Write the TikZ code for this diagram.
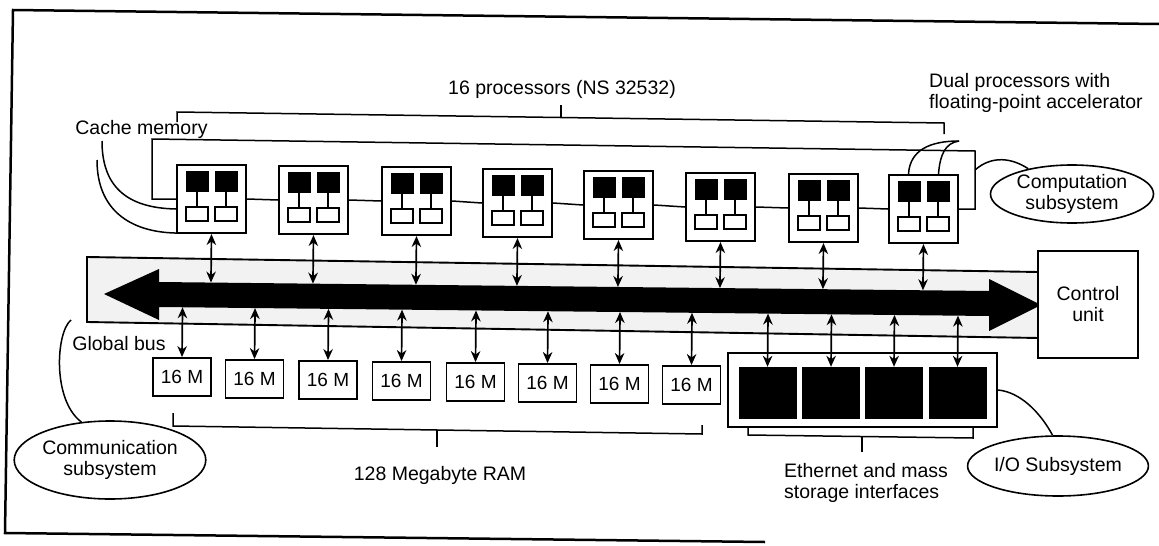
\documentclass[tikz,border=0pt]{standalone}
\usepackage{fontspec}
\setmainfont{Liberation Sans}
\usetikzlibrary{arrows.meta,calc,shapes.geometric}
\definecolor{busgray}{gray}{0.95}
\begin{document}
\begin{tikzpicture}[x=1pt,y=-1pt,
  lbl/.style={font=\fontsize{19.5}{21}\selectfont, inner sep=0pt, align=center},
  pbox/.style={draw, line width=2.1pt, minimum width=69pt, minimum height=68pt, inner sep=0pt, fill=white},
  mbox/.style={draw, line width=1.9pt, minimum width=58pt, minimum height=38pt, inner sep=0pt, fill=white, font=\fontsize{19}{21}\selectfont},
  iosq/.style={fill=black, minimum width=58pt, minimum height=52pt, inner sep=0pt},
  oval/.style={ellipse, draw, line width=1.6pt, inner sep=0pt, align=center, font=\fontsize{19.5}{21}\selectfont},
  dbl/.style={{Stealth[length=11pt,width=9.5pt]}-{Stealth[length=11pt,width=9.5pt]}, line width=1.7pt},
  wire/.style={line width=1.5pt},
]
\useasboundingbox (0,0) rectangle (1159,546);
% frame
\draw[line width=2.5pt] (1159,24) -- (13,10) -- (5,533) -- (765,542);

% bus
\coordinate (busTL) at (87,257);
\coordinate (busBL) at (87,322);
\coordinate (busTR) at (1039,272);
\coordinate (busBR) at (1039,338);
\fill[busgray] (busTL) -- (busTR) -- (busBR) -- (busBL) -- cycle;
\draw[line width=1.9pt] (busTR) -- (busTL) -- (busBL) -- (busBR);
\fill (104,294) -- (159,269) -- (159,282) -- (989,291) -- (989,279) -- (1041,305)
      -- (989,331) -- (989,316) -- (159,307) -- (159,320) -- cycle;
\coordinate (st1) at (159,282);
\coordinate (st2) at (989,291);
\coordinate (sb1) at (159,307);
\coordinate (sb2) at (989,316);

% control unit
\node[draw, line width=1.9pt, fill=white, minimum width=100pt, minimum height=107pt, lbl] (cu) at (1088,304.5) {Control\\unit};

% processor loop
\coordinate (loopTL) at (152,139);
\coordinate (loopTR) at (975,151);
\coordinate (loopR) at (975,170);

% processors
\foreach \i/\x/\y in {1/211.5/199, 2/313.5/200, 3/416.5/201, 4/517.5/203, 5/618.5/205, 6/720.5/207, 7/823.5/208, 8/923.5/209} {
  \node[pbox] (p\i) at (\x,\y) {};
  \begin{scope}[shift={(\x,\y)}]
    \fill (-26,-28) rectangle (-3,-7);
    \fill (3,-28) rectangle (26,-7);
    \draw[line width=1.6pt] (-25.5,8) rectangle (-3.5,22);
    \draw[line width=1.6pt] (3.5,8) rectangle (25.5,22);
    \draw[wire] (-14.5,-7) -- (-14.5,8);
    \draw[wire] (14.5,-7) -- (14.5,8);
  \end{scope}
  \draw[dbl] (p\i.south) -- ($(st1)!(p\i.south)!(st2)$);
}
\foreach \i/\j in {1/2,2/3,3/4,4/5,5/6,6/7,7/8}
  \draw[wire] (p\i.east) -- (p\j.west);
\draw[wire] (p1.west) -| (loopTL) -- (loopTR) |- (p8.east);

% 16 processors bracket
\node[lbl] (proc16) at (562,89) {16 processors (NS 32532)};
\draw[wire] (177,122) -- (177,112) -- (944,123) -- (944,134);
\draw[wire] (561,117.7) -- (561,105);

% cache memory
\node[lbl] (cache) at (141.5,129) {Cache memory};
\coordinate (cc1) at (102,141);
\coordinate (cc2) at (97,160);
\draw[wire] (cc1) .. controls (102,185) and (125,208) .. ($(p1.west)+(0,10)$);
\draw[wire] (cc2) .. controls (97,210) and (130,232) .. ($(p1.south west)+(0,-1)$);

% dual processors
\node[lbl, align=left, anchor=west] (dual) at (929,93) {Dual processors with\\floating-point accelerator};
\coordinate (dualpt) at (959,141);
\draw[wire] ($(p8.north)+(-15,0)$) .. controls (910,150) and (930,141) .. (dualpt);
\draw[wire] ($(p8.north)+(15,0)$) .. controls (940,155) and (945,143) .. (dualpt);

% computation subsystem
\node[oval, minimum width=163pt, minimum height=58pt] (comp) at (1072,194) {Computation\\subsystem};
\draw[wire] (loopR) .. controls (992,155) and (1012,158) .. (comp.150);

% memory
\foreach \i/\x/\y in {1/182/377, 2/254.5/379, 3/328/380, 4/401.5/381, 5/475.5/382, 6/547.5/383, 7/619.5/384, 8/691.5/385} {
  \node[mbox] (m\i) at (\x,\y) {16 M};
  \draw[dbl] ($(sb1)!(m\i.north)!(sb2)$) -- (m\i.north);
}
\draw[wire] (173,413) -- (173,426) -- (702,434) -- (702,425);
\draw[wire] (437,430) -- (437,447);
\node[lbl] (ram) at (440,475) {128 Megabyte RAM};

% global bus / communication
\node[lbl] (gbus) at (119,344) {Global bus};
\node[oval, minimum width=164pt, minimum height=78pt] (comm) at (110,460) {Communication\\subsystem};
\coordinate (gb) at (71,320);
\draw[wire] (gb) .. controls (56,332) and (52,400) .. (comm.127);

% I/O
\node[draw, line width=1.9pt, fill=white, minimum width=269pt, minimum height=74pt, inner sep=0pt] (iobox) at (862.5,390) {};
\foreach \i/\x in {1/767.5, 2/831, 3/894, 4/957.5} {
  \node[iosq] (io\i) at (\x,393) {};
  \draw[dbl] ($(sb1)!(io\i.north)!(sb2)$) -- (io\i.north);
}
\draw[wire] (748,426) -- (748,435) -- (973,438) -- (973,428);
\draw[wire] (862,437) -- (862,452);
\node[lbl, align=left, anchor=west] (eth) at (784,483) {Ethernet and mass\\storage interfaces};
\node[oval, minimum width=163pt, minimum height=60pt] (ioell) at (1058,466) {I/O Subsystem};
\draw[wire] (iobox.east) .. controls (1020,392) and (1040,412) .. (ioell.100);
\end{tikzpicture}
\end{document}
